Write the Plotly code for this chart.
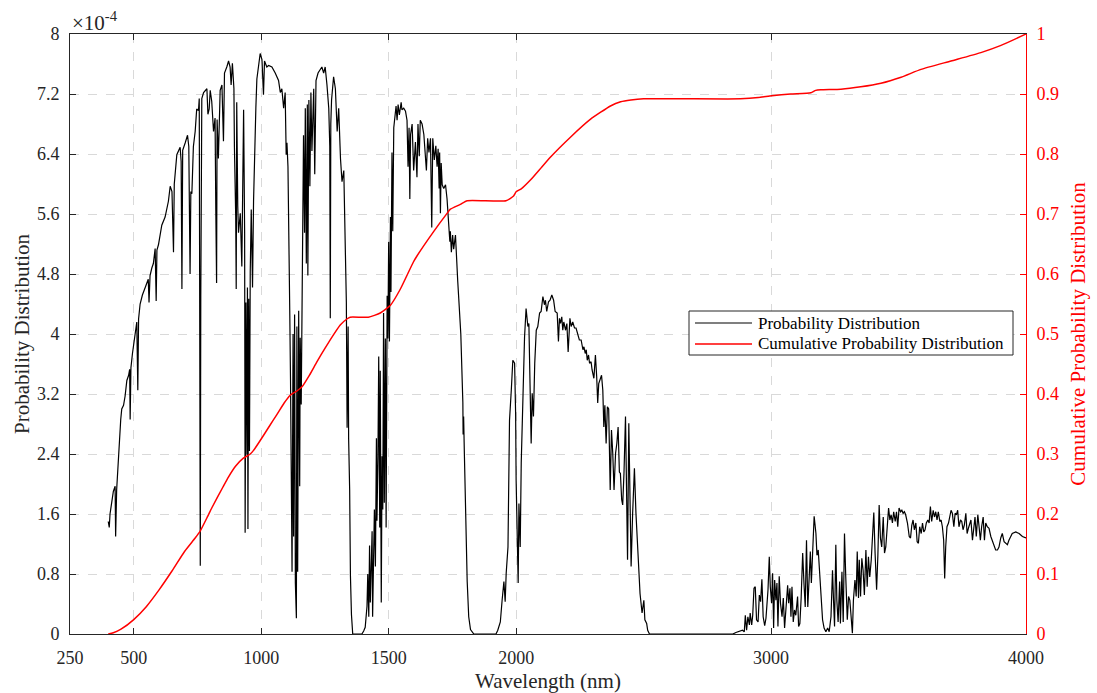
import numpy as np
import plotly.graph_objects as go

# ---------------- data ----------------
# Probability distribution, values in units of 1e-4
wavelength_nm = [
    400, 404, 407, 414, 420, 427, 429, 433, 440, 449, 453, 460, 466, 473, 480, 484, 486, 489, 495,
    505, 512, 516, 519, 525, 534, 545, 557, 560, 564, 571, 577, 584, 588, 591, 597, 610, 623, 636,
    643, 650, 656, 659, 662, 669, 682, 686, 689, 692, 702, 711, 716, 721, 724, 728, 734, 741, 747,
    754, 757, 760, 761, 763, 767, 774, 780, 787, 791, 796, 800, 806, 813, 819, 822, 825, 827, 832,
    839, 846, 852, 856, 865, 872, 878, 882, 887, 893, 895, 900, 902, 904, 908, 911, 918, 924, 931,
    935, 937, 940, 944, 946, 948, 951, 954, 957, 961, 966, 970, 974, 979, 983, 990, 996, 1003, 1009,
    1013, 1022,
    1029, 1042, 1055, 1068, 1075, 1081, 1088, 1094, 1098, 1101, 1105, 1108, 1112, 1115, 1118, 1121,
    1125, 1127, 1131, 1134, 1138, 1140, 1143, 1147, 1151, 1153, 1157, 1160, 1162, 1166, 1170, 1173,
    1177, 1181, 1183, 1187, 1191, 1195, 1199, 1206, 1210, 1215, 1223, 1232, 1238, 1245, 1251, 1258,
    1265, 1269, 1271, 1273, 1276, 1284, 1291, 1298, 1304, 1311, 1317, 1324, 1328, 1330, 1334, 1337,
    1341, 1343, 1347, 1350, 1354, 1359, 1380, 1395,
    1402, 1408, 1415, 1418, 1422, 1425, 1428, 1431, 1435, 1437, 1441, 1444, 1448, 1452, 1454, 1458,
    1461, 1465, 1467, 1471, 1474, 1477, 1480, 1483, 1487, 1490, 1494, 1497, 1500, 1503, 1507, 1509,
    1513, 1516, 1520, 1524, 1529, 1533, 1537, 1542, 1549, 1552, 1559, 1566, 1572, 1576, 1580, 1583,
    1586, 1592, 1598, 1605, 1611, 1615, 1620, 1624, 1631, 1638, 1644, 1648, 1653, 1658, 1664, 1669,
    1673, 1679, 1685, 1690, 1694, 1698, 1700, 1703, 1706, 1710, 1716, 1723, 1729, 1736, 1740, 1742,
    1746, 1751, 1755, 1762, 1766, 1768, 1771, 1775, 1778, 1783, 1791, 1792, 1794, 1797, 1801, 1808,
    1814, 1821, 1834, 1880, 1921,
    1928, 1938, 1945, 1952, 1957, 1961, 1968, 1974, 1981, 1987, 1994, 1998, 2000, 2004, 2008, 2011,
    2016, 2020, 2026, 2033, 2039, 2046, 2050, 2055, 2059, 2063, 2068, 2073, 2079, 2085, 2092, 2098,
    2105, 2111, 2115, 2120, 2127, 2133, 2140, 2147, 2153, 2161, 2166, 2170, 2174, 2179, 2183, 2187,
    2194, 2199, 2204, 2211, 2216, 2222, 2229, 2235, 2242, 2248, 2255, 2262, 2266, 2271, 2275, 2279,
    2284, 2288, 2294, 2298, 2305, 2311, 2316, 2320, 2324, 2329, 2335, 2340, 2344, 2348, 2353, 2358,
    2363, 2369, 2374, 2379, 2384, 2390, 2395, 2400, 2405, 2409, 2414, 2418, 2423, 2429, 2433, 2437,
    2442, 2446, 2451, 2457, 2464, 2470, 2476, 2481, 2486, 2494, 2501, 2505, 2512, 2516, 2523, 2600,
    2700, 2800, 2850,
    2862, 2875, 2888, 2895, 2899, 2904, 2909, 2915, 2918, 2924, 2928, 2933, 2938, 2943, 2949, 2954,
    2959, 2964, 2969, 2975, 2980, 2988, 2993, 2997, 3002, 3006, 3010, 3014, 3019, 3023, 3027, 3032,
    3037, 3043, 3048, 3053, 3058, 3065, 3069, 3074, 3078, 3082, 3087, 3092, 3097, 3104, 3108, 3113,
    3118, 3124, 3129, 3134, 3139, 3144, 3150, 3154, 3158, 3163, 3169, 3176, 3180, 3185, 3189, 3195,
    3202, 3208, 3215, 3222, 3228, 3235, 3241, 3245, 3249, 3254, 3258, 3263, 3269, 3272, 3278, 3283,
    3288, 3293, 3299, 3304, 3309, 3314, 3319, 3323, 3329, 3334, 3338, 3343, 3346, 3351, 3356, 3361,
    3366, 3372, 3377, 3382, 3387, 3393, 3398, 3403, 3408, 3414, 3419, 3424, 3429, 3434, 3440, 3445,
    3450, 3455, 3461, 3466, 3471, 3476, 3481, 3487, 3492, 3497, 3502, 3508, 3513, 3518, 3523, 3528,
    3535, 3542, 3547, 3552, 3557, 3562, 3568, 3573, 3578, 3583, 3589, 3594, 3599, 3604, 3609, 3615,
    3620, 3625, 3630, 3636, 3641, 3646, 3651, 3656, 3662, 3667, 3672, 3677, 3681, 3685, 3690, 3696,
    3701, 3706, 3711, 3717, 3722, 3727, 3732, 3737, 3743, 3748, 3753, 3758, 3764, 3769, 3774, 3779,
    3784, 3790, 3795, 3800, 3805, 3811, 3816, 3821, 3826, 3832, 3837, 3842, 3848, 3855, 3862, 3868,
    3875, 3881, 3888, 3894, 3901, 3907, 3914, 3920, 3927, 3933, 3940, 3946, 3960, 3973, 3986, 4000,
]

pdf_e4 = [
    1.50, 1.42, 1.60, 1.80, 1.90, 1.97, 1.30, 1.92, 2.39, 2.86, 3.00, 3.05, 3.17, 3.38, 3.45, 3.53, 2.86, 3.55, 3.74,
    4.00, 4.16, 3.25, 4.20, 4.40, 4.52, 4.62, 4.73, 4.42, 4.78, 4.88, 4.94, 5.14, 4.44, 5.12, 5.19, 5.45, 5.56, 5.77,
    5.97, 5.90, 5.09, 6.00, 6.10, 6.39, 6.49, 6.30, 4.60, 6.45, 6.55, 6.65, 6.50, 4.80, 5.90, 5.87, 6.50, 6.70, 7.00,
    6.98, 7.14, 3.90, 0.91, 4.50, 7.14, 7.22, 7.25, 7.27, 6.93, 7.00, 7.25, 7.10, 6.70, 6.88, 5.64, 4.68, 6.86, 6.34,
    7.25, 7.32, 6.57, 7.48, 7.56, 7.64, 7.56, 7.32, 7.61, 7.27, 6.49, 5.56, 4.60, 7.09, 5.71, 5.35, 5.61, 4.90, 6.99,
    5.35, 1.35, 4.42, 2.39, 4.62, 1.40, 4.47, 2.44, 4.83, 5.66, 4.62, 5.77, 6.44, 7.01, 7.40, 7.58, 7.74, 7.66, 7.19,
    7.64, 7.56,
    7.58, 7.56, 7.48, 7.38, 7.22, 7.27, 7.01, 7.22, 6.39, 6.55, 6.23, 5.61, 4.31, 3.38, 2.34, 0.83,
    4.00, 1.30, 4.26, 0.68, 0.21, 4.10, 0.83, 4.31, 1.97, 3.95, 3.06, 4.62, 5.87, 6.65, 5.35, 7.01,
    4.94, 7.06, 4.78, 7.12, 5.97, 7.22, 6.44, 7.27, 6.13, 7.38, 7.48, 7.53, 7.56, 7.48, 7.56, 7.32,
    7.01, 6.50, 4.21, 6.80, 7.12, 7.43, 7.27, 6.70, 7.01, 6.34, 6.03, 6.18, 5.45, 4.78, 4.42, 2.75,
    4.10, 2.60, 1.92, 0.78, 0.26, 0.00, 0.00, 0.00,
    0.04, 0.09, 0.37, 0.80, 0.23, 1.18, 0.42, 1.04, 1.37, 0.23, 1.09, 1.66, 0.90, 2.61, 1.51, 2.37,
    3.70, 1.42, 3.51, 0.42, 2.37, 1.66, 4.28, 1.75, 3.94, 1.42, 4.51, 3.94, 5.23, 3.90, 5.56, 4.56,
    6.42, 5.37, 6.75, 6.94, 7.04, 6.85, 7.06, 6.92, 7.09, 6.99, 7.01, 6.97, 6.85, 6.23, 6.75, 5.80,
    6.66, 6.80, 6.18, 6.56, 6.09, 6.80, 6.37, 6.85, 6.80, 6.66, 6.42, 6.18, 6.61, 6.42, 6.61, 5.42,
    6.61, 6.32, 6.51, 6.23, 6.47, 5.94, 6.42, 5.61, 6.28, 5.99, 5.94, 5.99, 5.80, 5.51, 5.23, 5.37,
    5.09, 5.32, 5.13, 5.32, 5.04, 4.75, 4.70, 4.47, 4.30, 4.00, 3.09, 2.66, 2.90, 2.40, 1.66, 0.70,
    0.23, 0.06, 0.00, 0.00, 0.00,
    0.05, 0.16, 0.45, 0.70, 0.43, 0.81, 1.16, 2.85, 3.25, 3.65, 3.61, 2.94, 2.05, 1.39, 0.68, 1.74,
    1.16, 2.28, 3.21, 3.96, 4.34, 4.10, 4.14, 2.94, 2.54, 3.21, 2.90, 3.61, 4.05, 4.10, 4.28, 4.30,
    4.50, 4.39, 4.45, 4.30, 4.43, 4.45, 4.52, 4.45, 4.30, 4.28, 3.90, 4.21, 4.14, 4.23, 4.05, 4.16,
    4.05, 4.14, 3.76, 4.21, 4.10, 4.16, 4.08, 4.08, 4.01, 3.92, 3.92, 3.79, 3.83, 3.74, 3.79, 3.65,
    3.72, 3.61, 3.63, 3.52, 3.41, 3.72, 3.43, 3.08, 3.34, 3.39, 3.45, 3.25, 2.76, 3.05, 2.54, 3.03,
    3.00, 1.92, 2.72, 2.41, 1.92, 2.41, 2.54, 2.76, 2.16, 2.14, 1.79, 1.72, 2.14, 2.90, 2.05, 0.99,
    2.81, 1.61, 0.90, 1.61, 2.21, 1.61, 1.12, 0.81, 0.54, 0.28, 0.45, 0.19, 0.14, 0.05, 0.00, 0.00,
    0.00, 0.00, 0.00,
    0.02, 0.04, 0.05, 0.03, 0.25, 0.05, 0.23, 0.12, 0.28, 0.12, 0.25, 0.61, 0.63, 0.19, 0.16, 0.52,
    0.43, 0.73, 0.23, 0.11, 0.21, 0.59, 1.03, 0.63, 0.41, 0.81, 0.08, 0.72, 0.45, 0.68, 0.10, 0.77,
    0.41, 0.23, 0.48, 0.08, 0.30, 0.65, 0.41, 0.61, 0.23, 0.63, 0.16, 0.32, 0.25, 0.50, 0.10, 0.14,
    0.48, 1.08, 0.68, 0.36, 1.25, 0.36, 0.79, 1.10, 0.68, 1.21, 1.57, 1.34, 1.05, 1.12, 0.90, 0.45,
    0.19, 0.08, 0.03, 0.08, 0.03, 0.23, 0.85, 0.45, 0.10, 1.19, 0.45, 0.16, 0.70, 0.14, 0.83, 0.16,
    1.34, 0.76, 0.19, 0.50, 0.45, 0.23, 0.01, 0.45, 0.72, 0.50, 1.10, 0.48, 0.99, 0.50, 1.01, 0.85,
    0.52, 1.12, 0.63, 1.03, 0.76, 0.99, 1.28, 1.62, 1.08, 0.59, 1.05, 1.72, 1.28, 1.16, 1.56, 1.08,
    1.16, 1.45, 1.68, 1.52, 1.59, 1.48, 1.63, 1.50, 1.63, 1.43, 1.68, 1.63, 1.65, 1.61, 1.63, 1.59,
    1.48, 1.30, 1.28, 1.45, 1.52, 1.39, 1.48, 1.23, 1.21, 1.43, 1.34, 1.48, 1.36, 1.39, 1.48, 1.52,
    1.48, 1.70, 1.50, 1.65, 1.56, 1.63, 1.52, 1.63, 1.50, 1.52, 1.43, 1.25, 0.74, 1.16, 1.43, 1.48,
    1.59, 1.65, 1.61, 1.43, 1.61, 1.59, 1.65, 1.43, 1.52, 1.50, 1.39, 1.45, 1.61, 1.34, 1.41, 1.48,
    1.52, 1.25, 1.43, 1.56, 1.30, 1.59, 1.43, 1.25, 1.43, 1.56, 1.25, 1.48, 1.43, 1.41, 1.30, 1.25,
    1.19, 1.12, 1.12, 1.16, 1.28, 1.34, 1.23, 1.21, 1.19, 1.25, 1.30, 1.34, 1.36, 1.34, 1.30, 1.28,
]

# Cumulative probability distribution
cdf_wavelength_nm = [
    400, 420, 450, 500, 550, 600, 650, 700, 741, 760, 790, 806, 850, 872, 900, 930, 957, 970,
    1000, 1030, 1062, 1090, 1114, 1140, 1160, 1190, 1219, 1250, 1284, 1310, 1336, 1349, 1420,
    1467, 1507, 1546, 1597, 1611, 1677, 1729, 1742, 1781, 1808, 1960, 1990, 2000, 2020, 2057,
    2100, 2135, 2213, 2292, 2370, 2410, 2450, 2500, 2880, 2950, 3003, 3077, 3156, 3175, 3195,
    3274, 3352, 3431, 3510, 3588, 3706, 3823, 3902, 4000,
]
cdf = [
    0.000, 0.002, 0.008, 0.024, 0.046, 0.074, 0.105, 0.138, 0.160, 0.171, 0.196, 0.210, 0.245,
    0.262, 0.280, 0.293, 0.300, 0.306, 0.325, 0.345, 0.366, 0.385, 0.398, 0.405, 0.412, 0.432,
    0.454, 0.476, 0.499, 0.515, 0.525, 0.528, 0.528, 0.535, 0.548, 0.575, 0.620, 0.630, 0.671,
    0.701, 0.708, 0.716, 0.722, 0.722, 0.730, 0.737, 0.742, 0.757, 0.778, 0.795, 0.828, 0.858,
    0.880, 0.887, 0.890, 0.892, 0.892, 0.894, 0.897, 0.900, 0.902, 0.906, 0.907, 0.908, 0.912,
    0.918, 0.928, 0.941, 0.955, 0.969, 0.981, 1.000,
]

series_names = ["Probability Distribution", "Cumulative Probability Distribution"]
x_ticks = [250, 500, 1000, 1500, 2000, 3000, 4000]
y_ticks_e4 = [0, 0.8, 1.6, 2.4, 3.2, 4.0, 4.8, 5.6, 6.4, 7.2, 8.0]
y_ticklabels = ["0", "0.8", "1.6", "2.4", "3.2", "4", "4.8", "5.6", "6.4", "7.2", "8"]
y2_ticks = [0, 0.1, 0.2, 0.3, 0.4, 0.5, 0.6, 0.7, 0.8, 0.9, 1.0]
y2_ticklabels = ["0", "0.1", "0.2", "0.3", "0.4", "0.5", "0.6", "0.7", "0.8", "0.9", "1"]

# ---------------- figure ----------------
FONT = "Liberation Serif, Times New Roman, serif"
AX = "#262626"
GRID = "#d9d9d9"
RED = "#ff0000"
W, H = 1097, 693
ML, MR, MT, MB = 70, 71, 34, 59
PW, PH = W - ML - MR, H - MT - MB


def px(xp):
    return (xp - ML) / PW


def py(yp):
    return (H - MB - yp) / PH


pdf = np.array(pdf_e4) * 1e-4

fig = go.Figure()
fig.add_trace(go.Scatter(
    x=wavelength_nm, y=pdf, mode="lines", name=series_names[0],
    line=dict(color="black", width=1.2), yaxis="y", showlegend=False))
fig.add_trace(go.Scatter(
    x=cdf_wavelength_nm, y=cdf, mode="lines", name=series_names[1],
    line=dict(color=RED, width=1.5, shape="spline", smoothing=0.5), yaxis="y2",
    showlegend=False))

fig.update_layout(
    width=W, height=H,
    margin=dict(l=ML, r=MR, t=MT, b=MB, autoexpand=False),
    paper_bgcolor="white", plot_bgcolor="white",
    font=dict(family=FONT, size=18, color=AX),
    showlegend=False,
    xaxis=dict(range=[250, 4000], tickvals=x_ticks, ticktext=[str(v) for v in x_ticks],
               showline=True, linecolor=AX, linewidth=1, mirror="ticks",
               ticks="inside", ticklen=6, tickcolor=AX, automargin=False,
               showgrid=True, gridcolor=GRID, griddash="dash", gridwidth=1,
               zeroline=False,
               tickfont=dict(family=FONT, size=18, color=AX),
               ticklabelstandoff=7,
               title=dict(text="Wavelength (nm)", font=dict(family=FONT, size=21, color=AX),
                          standoff=6)),
    yaxis=dict(range=[0, 8e-4], tickvals=[v * 1e-4 for v in y_ticks_e4], ticktext=y_ticklabels,
               showline=True, linecolor=AX, linewidth=1, automargin=False,
               ticks="inside", ticklen=6, tickcolor=AX,
               showgrid=True, gridcolor=GRID, griddash="dash", gridwidth=1,
               zeroline=False,
               tickfont=dict(family=FONT, size=18, color=AX),
               ticklabelstandoff=6,
               title=dict(text="Probability Distribution", font=dict(family=FONT, size=21, color=AX),
                          standoff=1)),
    yaxis2=dict(range=[0, 1], tickvals=y2_ticks, ticktext=y2_ticklabels,
                overlaying="y", side="right", automargin=False,
                showline=True, linecolor=RED, linewidth=1,
                ticks="inside", ticklen=6, tickcolor=RED,
                showgrid=False, zeroline=False,
                tickfont=dict(family=FONT, size=18, color=RED),
                ticklabelstandoff=6,
                title=dict(text="Cumulative Probability Distribution",
                           font=dict(family=FONT, size=21, color=RED), standoff=12)),
)

# x10^-4 exponent label
fig.add_annotation(
    xref="paper", yref="paper", x=0.0, y=1.0, xanchor="left", yanchor="bottom",
    text="×10<sup>-4</sup>", showarrow=False, yshift=-3,
    font=dict(family=FONT, size=21, color=AX))

# legend box (drawn like the MATLAB legend)
fig.add_shape(type="rect", xref="paper", yref="paper",
              x0=px(689), x1=px(1013), y0=py(355), y1=py(311),
              line=dict(color=AX, width=1), fillcolor="white", layer="above")
for i, (name, col) in enumerate(zip(series_names, ["black", RED])):
    yy = 323 + 21 * i
    fig.add_shape(type="line", xref="paper", yref="paper",
                  x0=px(695), x1=px(752), y0=py(yy), y1=py(yy),
                  line=dict(color=col, width=1.1 if i == 0 else 1.5), layer="above")
    fig.add_annotation(xref="paper", yref="paper", x=px(756), y=py(yy),
                       xanchor="left", yanchor="middle", text=name, showarrow=False,
                       font=dict(family=FONT, size=17, color="black"))

fig.write_html("out.html")
